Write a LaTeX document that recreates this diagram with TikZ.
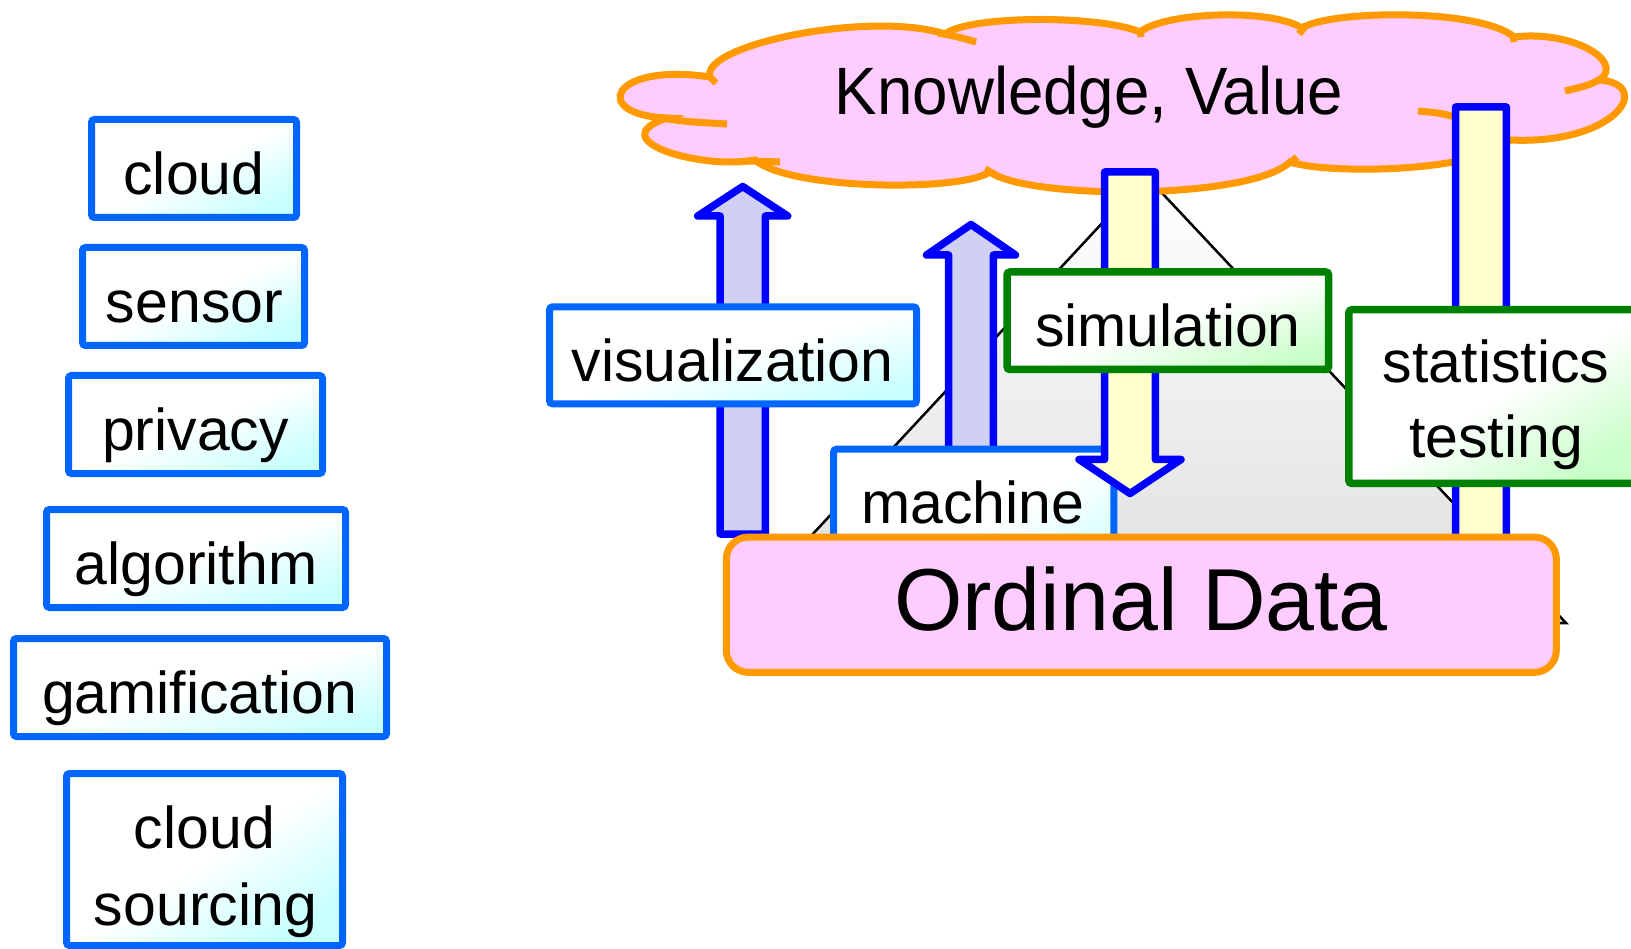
\documentclass[tikz,border=0pt]{standalone}
\usepackage{fontspec}
\setmainfont{Liberation Sans}
\newfontfamily\narrowsans[FakeStretch=0.95]{Liberation Sans}

\definecolor{boxblue}{HTML}{0066FF}
\definecolor{cyanwash}{HTML}{C8FFFF}
\definecolor{boxgreen}{HTML}{008000}
\definecolor{greenwash}{HTML}{C8FFC8}
\definecolor{arrowblue}{HTML}{0000FF}
\definecolor{lavender}{HTML}{D0D0F2}
\definecolor{paleyellow}{HTML}{FFFFCC}
\definecolor{pinkfill}{HTML}{FFCCFF}
\definecolor{orangeline}{HTML}{FF9900}

\begin{document}
\begin{tikzpicture}[x=1pt,y=-1pt,
  every node/.style={inner sep=0pt, outer sep=0pt},
  word/.style={anchor=base, text=black, font=\fontsize{59}{70}\selectfont},
  % the wash runs from the top-left corner to the bottom-right corner;
  % the argument is atan(height/width) of the box
  bluebox/.style={rectangle, draw=boxblue, line width=7pt, rounded corners=3pt,
    top color=white, bottom color=cyanwash, middle color=white, shading angle=#1},
  greenbox/.style={rectangle, draw=boxgreen, line width=7.5pt, rounded corners=3pt,
    top color=white, bottom color=greenwash, middle color=white, shading angle=#1},
  uparrow/.style={draw=arrowblue, fill=lavender, line width=7.5pt, line join=round},
  downarrow/.style={draw=arrowblue, fill=paleyellow, line width=7.5pt, line join=round},
  stub/.style={draw=orangeline, line width=7pt},
  pyramid/.style={draw=black, line width=2.5pt, top color=white, bottom color=black!13}]

\useasboundingbox (0,0) rectangle (1631,949);

% ---- pyramid in the background ----
\coordinate (apex) at (1146,176);
\coordinate (baseL) at (730,623);
\coordinate (baseR) at (1566,623);
\path[pyramid] (apex) -- (baseL) -- (baseR) -- cycle;

% ---- knowledge cloud ----
\path[draw=orangeline, fill=pinkfill, line width=7pt] (710,77)
  .. controls (700,45) and (870,10) .. (945,34)
  .. controls (970,15) and (1100,15) .. (1140,32)
  .. controls (1165,12) and (1270,8) .. (1302,28)
  .. controls (1330,10) and (1480,8) .. (1514,37)
  .. controls (1570,30) and (1625,60) .. (1600,80)
  .. controls (1655,85) and (1615,145) .. (1510,140)
  .. controls (1480,172) and (1330,175) .. (1290,162)
  .. controls (1250,200) and (1030,200) .. (990,172)
  .. controls (960,192) and (790,190) .. (755,160)
  .. controls (700,170) and (600,140) .. (667,118)
  .. controls (590,115) and (610,62) .. (710,77) -- cycle;
% inner strokes of the puffs
\draw[stub] (938,33) .. controls (955,36) .. (976,42);
\draw[stub] (660,118) .. controls (690,122) .. (727,124);
\draw[stub] (748,161) -- (780,162);
\draw[stub] (706,73) -- (716,83);
\draw[stub] (1140,30) -- (1141,37);
\draw[stub] (1306,25) -- (1299,34);
\draw[stub] (1513,34) -- (1514,42);
\draw[stub] (1604,77) .. controls (1590,85) .. (1565,91);
\draw[stub] (1455,117) .. controls (1440,113) .. (1418,111);
\draw[stub] (1289,164) -- (1297,157);
\draw[stub] (985,169) -- (999,177);
\node[anchor=base, text=black, font=\narrowsans\fontsize{67}{80}\selectfont]
  (knowledge) at (1089,115) {Knowledge, Value};

% ---- upward arrows ----
\draw[uparrow] (720.1,534) -- (720.1,216) -- (697.7,216) -- (742.7,186.5)
  -- (787.7,216) -- (765.3,216) -- (765.3,534) -- cycle;
\draw[uparrow] (948.6,560) -- (948.6,255) -- (926.5,255) -- (971,224.5)
  -- (1015.5,255) -- (993.4,255) -- (993.4,560) -- cycle;

% ---- visualization and machine boxes ----
\node[bluebox=14.8, minimum width=367pt, minimum height=97pt] (visbox) at (733,355.3) {};
\node[word] (vistext) at (732.5,382) {visualization};
\node[bluebox=31.3, minimum width=280.3pt, minimum height=170pt] (machbox) at (973.7,534.2) {};
\node[word] (machtext) at (973,523) {machine};

% ---- downward arrows and green boxes ----
\draw[downarrow] (1104.6,172) -- (1104.6,459.5) -- (1079,459.5) -- (1130,493.5)
  -- (1181,459.5) -- (1155.4,459.5) -- (1155.4,172) -- cycle;
\node[greenbox=16.9, minimum width=321.6pt, minimum height=97.5pt] (simbox) at (1167.8,320.75) {};
\node[word] (simtext) at (1168,347) {simulation};

\draw[downarrow] (1455.6,107) -- (1455.6,565) -- (1430,565) -- (1481,600)
  -- (1532,565) -- (1506.4,565) -- (1506.4,107) -- cycle;
\node[greenbox=30.3, minimum width=297pt, minimum height=173.75pt] (statbox) at (1497.4,396.6) {};
\node[word] (stattext) at (1496,383) {statistics};
\node[word] (testtext) at (1496,457) {testing};

% ---- ordinal data base ----
\node[draw=orangeline, fill=pinkfill, line width=7pt, rounded corners=22pt,
  minimum width=830pt, minimum height=135.3pt] (ordinal) at (1141.3,604.7) {};
\node[anchor=base, text=black, font=\fontsize{88}{100}\selectfont]
  (ordinaltext) at (1141,630) {Ordinal Data};

% ---- keyword column ----
\node[bluebox=25.6, minimum width=205pt, minimum height=98pt] (b1) at (194,168.5) {};
\node[word] (t1) at (194,195) {cloud};
\node[bluebox=23.8, minimum width=222pt, minimum height=98pt] (b2) at (193.5,296.5) {};
\node[word] (t2) at (194.5,323) {sensor};
\node[bluebox=21.1, minimum width=254pt, minimum height=98pt] (b3) at (195.5,424.5) {};
\node[word] (t3) at (195.5,450) {privacy};
\node[bluebox=18.2, minimum width=299pt, minimum height=98pt] (b4) at (196,558.5) {};
\node[word] (t4) at (196,584) {algorithm};
\node[bluebox=14.7, minimum width=373pt, minimum height=98pt] (b5) at (200,687.5) {};
\node[word] (t5) at (199.5,713) {gamification};
\node[bluebox=31.9, minimum width=276pt, minimum height=172pt] (b6) at (204.5,859.5) {};
\node[word] (t6a) at (204.5,848) {cloud};
\node[word] (t6b) at (205.5,925) {sourcing};
\end{tikzpicture}
\end{document}
